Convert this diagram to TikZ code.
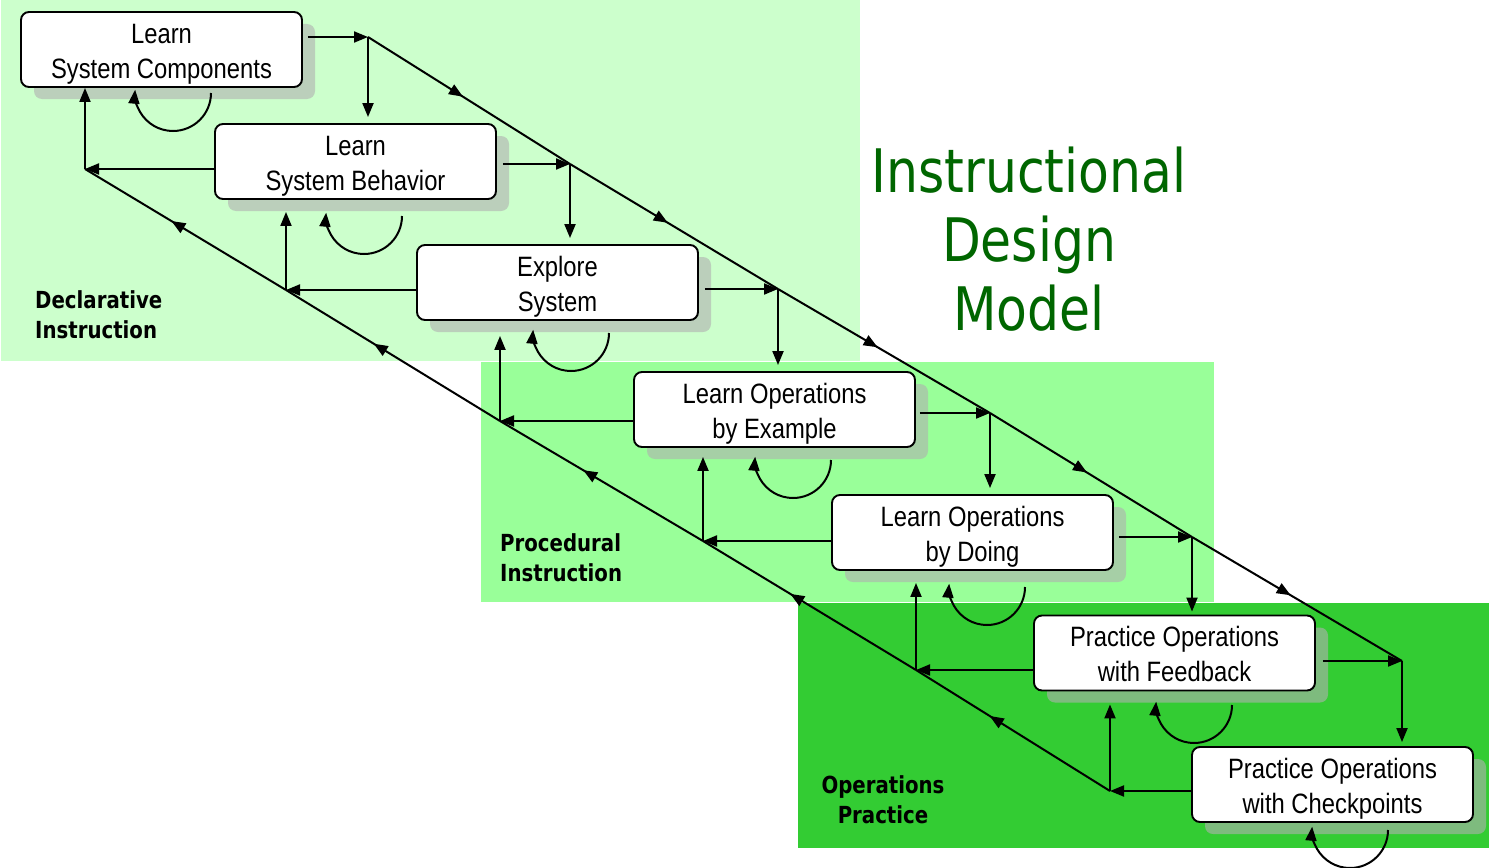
\documentclass[tikz,border=0pt]{standalone}
\usepackage{fontspec}
\setmainfont[FakeStretch=0.85]{Liberation Sans}
\newfontfamily\titlefont[FakeStretch=0.84]{DejaVu Sans}
\usetikzlibrary{arrows.meta,shadows,decorations.markings}
\definecolor{bgA}{HTML}{CCFFCC}
\definecolor{bgB}{HTML}{99FF99}
\definecolor{bgC}{HTML}{33CC33}
\definecolor{ttl}{HTML}{006600}
\definecolor{shd}{HTML}{B0B0B0}
\newcommand{\bxs}{\rule[-6pt]{0pt}{34pt}}
\newcommand{\ttls}{\rule[-15pt]{0pt}{63pt}}
\newcommand{\lbs}{\rule[-6pt]{0pt}{26pt}}
\tikzset{
  box/.style={draw=black, line width=1.9pt, fill=white, rounded corners=8pt,
    minimum width=281pt, minimum height=75pt, inner sep=0pt, align=center,
    font=\fontsize{28}{35}\selectfont,
    drop shadow={shadow xshift=13pt, shadow yshift=-12pt, fill=shd, opacity=0.6}},
  flow/.style={line width=2pt, draw=black},
  arr/.style={flow, -{Triangle[length=14pt,width=11pt]}},
  midarr/.style={flow, postaction={decorate}, decoration={markings,
    mark=at position #1 with {\arrow{Triangle[length=14pt,width=11pt]}}}},
  lbl/.style={inner sep=0pt, font=\titlefont\bfseries\fontsize{23.5}{30}\selectfont},
}
\begin{document}
\begin{tikzpicture}[x=1pt,y=-1pt]
\useasboundingbox (0,0) rectangle (1490,867);
\fill[white] (0,0) rectangle (1490,867);
% background bands
\fill[bgA] (1,0) rectangle (860,361);
\fill[bgB] (481,362) rectangle (1214,602);
\fill[bgC] (798,603) rectangle (1489,848);

% title and band labels
\node[inner sep=0pt, align=center, text=ttl,
  font=\titlefont\fontsize{60}{69}\selectfont] (title) at (1029,244.5)
  {\ttls Instructional\\\ttls Design\\\ttls Model};
\node[lbl, anchor=west, align=left] (decl) at (35,316) {\lbs Declarative\\\lbs Instruction};
\node[lbl, anchor=west, align=left] (proc) at (500,559) {\lbs Procedural\\\lbs Instruction};
\node[lbl, align=center] (oper) at (883,801) {\lbs Operations\\\lbs Practice};

% boxes
\node[box] (b1) at (161.5,49.5) {\bxs Learn\\\bxs System Components};
\node[box] (b2) at (355.5,161.5) {\bxs Learn\\\bxs System Behavior};
\node[box] (b3) at (557.5,282.5) {\bxs Explore\\\bxs System};
\node[box] (b4) at (774.5,409.5) {\bxs Learn Operations\\\bxs by Example};
\node[box] (b5) at (972.5,532.5) {\bxs Learn Operations\\\bxs by Doing};
\node[box] (b6) at (1174.5,653) {\bxs Practice Operations\\\bxs with Feedback};
\node[box] (b7) at (1332.5,784.5) {\bxs Practice Operations\\\bxs with Checkpoints};

% junctions of the forward path
\coordinate (J1) at (368,37);
\coordinate (J2) at (570,164);
\coordinate (J3) at (778,289);
\coordinate (J4) at (990,413);
\coordinate (J5) at (1192,537);
\coordinate (J6) at (1402,661);
% junctions of the return path
\coordinate (K1) at (85,169);
\coordinate (K2) at (286,290);
\coordinate (K3) at (500,421);
\coordinate (K4) at (703,541);
\coordinate (K5) at (916,670);
\coordinate (K6) at (1110,791);
% self-loop centres
\coordinate (L1) at (173,93);
\coordinate (L2) at (364,216);
\coordinate (L3) at (571,333);
\coordinate (L4) at (793,460);
\coordinate (L5) at (987,587);
\coordinate (L6) at (1194,705);
\coordinate (L7) at (1350,830);

% forward: box -> junction
\draw[arr, shorten <=5pt] (b1.east |- J1) -- (J1);
\draw[arr, shorten <=6pt] (b2.east |- J2) -- (J2);
\draw[arr, shorten <=6pt] (b3.east |- J3) -- (J3);
\draw[arr, shorten <=4pt] (b4.east |- J4) -- (J4);
\draw[arr, shorten <=5pt] (b5.east |- J5) -- (J5);
\draw[arr, shorten <=7pt] (b6.east |- J6) -- (J6);
% forward: junction -> next box
\draw[arr, shorten >=6pt] (J1) -- (J1 |- b2.north);
\draw[arr, shorten >=6pt] (J2) -- (J2 |- b3.north);
\draw[arr, shorten >=6pt] (J3) -- (J3 |- b4.north);
\draw[arr, shorten >=6pt] (J4) -- (J4 |- b5.north);
\draw[arr, shorten >=3pt] (J5) -- (J5 |- b6.north);
\draw[arr, shorten >=4pt] (J6) -- (J6 |- b7.north);
% forward diagonal
\draw[midarr=0.47] (J1) -- (J2);
\draw[midarr=0.47] (J2) -- (J3);
\draw[midarr=0.47] (J3) -- (J4);
\draw[midarr=0.48] (J4) -- (J5);
\draw[midarr=0.47] (J5) -- (J6);

% return: box -> junction
\draw[arr] (b2.west |- K1) -- (K1);
\draw[arr] (b3.west |- K2) -- (K2);
\draw[arr] (b4.west |- K3) -- (K3);
\draw[arr] (b5.west |- K4) -- (K4);
\draw[arr] (b6.west |- K5) -- (K5);
\draw[arr] (b7.west |- K6) -- (K6);
% return: junction -> previous box
\draw[arr] (K1) -- (K1 |- b1.south);
\draw[arr, shorten >=12pt] (K2) -- (K2 |- b2.south);
\draw[arr, shorten >=15pt] (K3) -- (K3 |- b3.south);
\draw[arr, shorten >=9pt] (K4) -- (K4 |- b4.south);
\draw[arr, shorten >=12pt] (K5) -- (K5 |- b5.south);
\draw[arr, shorten >=13pt] (K6) -- (K6 |- b6.south);
% return diagonal
\draw[midarr=0.57] (K2) -- (K1);
\draw[midarr=0.59] (K3) -- (K2);
\draw[midarr=0.59] (K4) -- (K3);
\draw[midarr=0.59] (K5) -- (K4);
\draw[midarr=0.62] (K6) -- (K5);

% self loops
\foreach \c in {L1,L2,L3,L4,L5,L6,L7}
  \draw[arr] ([xshift=38pt]\c) arc[start angle=0, end angle=185, radius=38];
\end{tikzpicture}
\end{document}
